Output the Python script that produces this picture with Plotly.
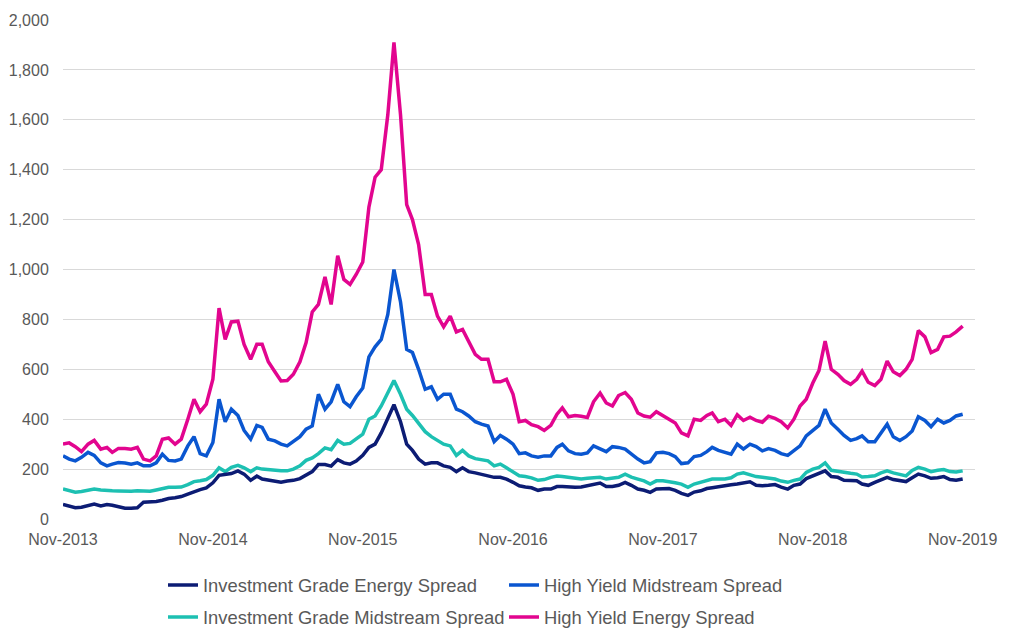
import pandas as pd
import plotly.graph_objects as go

# Semi-monthly observation dates, Nov-2013 .. Nov-2019
dates = []
for y in range(2013, 2020):
    for mo in range(1, 13):
        if (y, mo) < (2013, 11) or (y, mo) > (2019, 11):
            continue
        dates.append(f"{y}-{mo:02d}-01")
        if (y, mo) != (2019, 11):
            dates.append(f"{y}-{mo:02d}-16")

ig_energy = [
    58, 50, 45, 47, 55, 60, 52, 58, 55, 48, 43, 43, 45, 67, 67, 70, 75, 82, 85, 90, 100, 110, 118, 125,
    145, 175, 178, 182, 193, 180, 155, 172, 160, 155, 150, 147, 152, 155, 162, 178, 190, 218, 218, 212, 238, 225, 220, 232,
    255, 287, 300, 345, 400, 458, 390, 300, 275, 240, 220, 225, 225, 213, 207, 190, 205, 190, 185, 180, 172, 167, 167, 160,
    147, 133, 128, 125, 115, 120, 120, 130, 130, 127, 127, 128, 133, 140, 144, 130, 130, 135, 147, 135, 120, 115, 107, 120,
    120, 122, 115, 103, 95, 108, 113, 122, 125, 130, 133, 137, 140, 145, 149, 135, 133, 135, 138, 128, 120, 135, 140, 162,
    172, 182, 193, 170, 167, 155, 153, 153, 140, 135, 147, 158, 167, 158, 153, 150, 165, 180, 173, 163, 165, 170, 158, 155,
    160,
]

hy_midstream = [
    253, 240, 233, 247, 267, 255, 225, 213, 220, 226, 224, 220, 225, 213, 213, 225, 260, 235, 233, 240, 293, 330, 262, 253,
    307, 480, 390, 440, 415, 355, 320, 375, 367, 320, 313, 300, 293, 310, 330, 360, 373, 500, 440, 470, 540, 470, 450, 490,
    525, 650, 690, 720, 820, 1000, 870, 680, 667, 600, 520, 530, 480, 500, 500, 440, 430, 413, 390, 380, 373, 310, 335, 320,
    300, 262, 265, 253, 248, 253, 253, 287, 300, 273, 262, 260, 265, 293, 280, 270, 290, 287, 280, 260, 240, 225, 230, 265,
    267, 262, 250, 222, 225, 250, 255, 270, 287, 275, 267, 260, 300, 280, 300, 290, 273, 282, 275, 262, 255, 275, 293, 333,
    355, 375, 440, 385, 360, 335, 315, 322, 333, 310, 310, 345, 380, 330, 315, 330, 353, 410, 395, 370, 400, 385, 395, 413,
    420,
]

ig_midstream = [
    120, 113, 107, 110, 115, 120, 116, 113, 113, 112, 111, 111, 113, 112, 111, 116, 122, 127, 127, 128, 138, 150, 153, 158,
    175, 205, 190, 207, 215, 205, 190, 205, 200, 198, 193, 193, 193, 200, 213, 235, 245, 262, 285, 278, 315, 300, 303, 320,
    340, 400, 413, 453, 505, 555, 500, 440, 415, 385, 350, 330, 315, 300, 293, 255, 275, 253, 242, 238, 233, 213, 220, 205,
    190, 173, 170, 165, 155, 158, 167, 172, 170, 167, 162, 160, 163, 165, 167, 160, 163, 167, 180, 168, 160, 153, 140, 153,
    153, 150, 145, 140, 127, 140, 148, 153, 160, 160, 160, 165, 180, 185, 177, 170, 167, 164, 160, 152, 147, 155, 160, 187,
    200, 207, 225, 195, 190, 187, 183, 180, 168, 170, 173, 185, 193, 185, 180, 173, 195, 207, 200, 190, 195, 198, 190, 188,
    193,
]

hy_energy = [
    300, 305, 290, 270, 300, 315, 280, 287, 267, 283, 283, 280, 287, 240, 233, 253, 320, 325, 300, 320, 400, 480, 430, 460,
    560, 845, 720, 790, 793, 700, 640, 700, 700, 630, 590, 553, 555, 580, 630, 707, 830, 860, 970, 860, 1055, 960, 940, 980,
    1030, 1250, 1370, 1400, 1620, 1910, 1620, 1260, 1200, 1100, 900, 900, 813, 770, 813, 750, 760, 710, 660, 640, 640, 550, 550, 560,
    500, 390, 395, 378, 370, 355, 375, 420, 445, 410, 415, 412, 407, 470, 505, 465, 453, 495, 507, 480, 425, 413, 408, 430,
    415, 400, 385, 345, 333, 400, 395, 415, 425, 390, 400, 375, 418, 395, 408, 395, 388, 412, 403, 390, 365, 400, 453, 480,
    545, 595, 713, 600, 580, 555, 540, 560, 593, 548, 535, 560, 633, 590, 575, 600, 640, 755, 730, 667, 680, 730, 733, 750,
    773,
]

tick_dates = ["2013-11-01", "2014-11-01", "2015-11-01", "2016-11-01",
              "2017-11-01", "2018-11-01", "2019-11-01"]
tick_labels = ["Nov-2013", "Nov-2014", "Nov-2015", "Nov-2016",
               "Nov-2017", "Nov-2018", "Nov-2019"]

# (name, values, colour, legend row, rank within row)
series = [
    ("Investment Grade Energy Spread", ig_energy, "#0c1c74", "legend", 1),
    ("High Yield Midstream Spread", hy_midstream, "#0a56d0", "legend", 2),
    ("Investment Grade Midstream Spread", ig_midstream, "#1dc0b2", "legend2", 1),
    ("High Yield Energy Spread", hy_energy, "#e2058f", "legend2", 2),
]

fig = go.Figure()
# draw order: pink at back, then blue, cyan, navy on top
for i in [3, 1, 2, 0]:
    name, vals, col, leg, rank = series[i]
    fig.add_trace(go.Scatter(
        x=pd.to_datetime(dates), y=vals, name=name, mode="lines",
        line=dict(color=col, width=3.5), legend=leg, legendrank=rank,
    ))

font_family = "Liberation Sans, Arial, sans-serif"
leg_common = dict(
    orientation="h", xref="container", yref="container",
    x=163 / 1024, xanchor="left", yanchor="middle",
    entrywidth=296, font=dict(size=18.4, color="#595959"),
    itemwidth=30, traceorder="normal", bgcolor="rgba(0,0,0,0)",
)
fig.update_layout(
    width=1024, height=635,
    margin=dict(l=63, r=49, t=20, b=116, autoexpand=False),
    paper_bgcolor="white", plot_bgcolor="white",
    font=dict(family=font_family, size=16, color="#595959"),
    showlegend=True,
    legend=dict(**leg_common, y=1 - 585 / 635),
    legend2=dict(**leg_common, y=1 - 617 / 635),
    xaxis=dict(
        type="date", range=["2013-11-01", "2019-12-01"],
        tickvals=pd.to_datetime(tick_dates), ticktext=tick_labels,
        showgrid=False, showline=False, zeroline=False, automargin=False,
        ticks="outside", ticklen=6, tickcolor="rgba(0,0,0,0)",
        tickfont=dict(size=16, color="#595959"),
    ),
    yaxis=dict(
        range=[0, 2000], dtick=200, tickformat=",",
        showgrid=True, gridcolor="#d9d9d9", gridwidth=1,
        zeroline=False, showline=False, automargin=False,
        ticks="outside", ticklen=10, tickcolor="rgba(0,0,0,0)",
        tickfont=dict(size=16, color="#595959"),
    ),
)

fig.write_html(
    "out.html",
    config={"displayModeBar": False},
    post_script="document.body.style.margin='0px';document.body.style.overflow='hidden';",
)
